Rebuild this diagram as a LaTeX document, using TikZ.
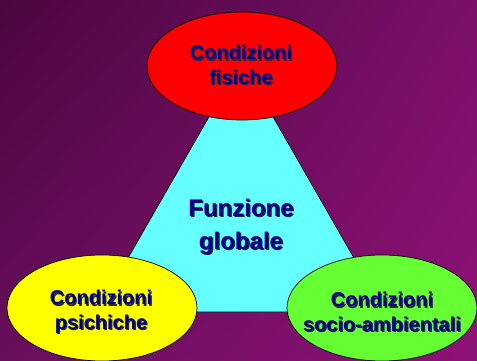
\documentclass[tikz,border=0pt]{standalone}
\usepackage{fontspec}
\setmainfont{Liberation Sans}
\usetikzlibrary{shapes.geometric,shadings}
\definecolor{bgul}{RGB}{74,6,64}
\definecolor{bgur}{RGB}{122,16,104}
\definecolor{bgll}{RGB}{104,14,92}
\definecolor{bglr}{RGB}{142,18,118}
\definecolor{redc}{RGB}{255,0,0}
\definecolor{cyanc}{RGB}{102,255,255}
\definecolor{yelc}{RGB}{255,255,0}
\definecolor{grnc}{RGB}{102,255,51}
\definecolor{txtc}{RGB}{0,0,136}
\definecolor{shc}{RGB}{40,40,60}
\newcommand\shlabel[4]{%
  \node[#3, text=shc, xshift=1.3pt, yshift=-1.3pt] at #2 {#4};
  \node[#3] (#1) at #2 {#4};}
\begin{document}
\begin{tikzpicture}[x=1pt,y=-1pt,
  blob/.style={ellipse, draw=black, line width=0.7pt, inner sep=0pt,
    minimum width=190pt, minimum height=108pt},
  lbl/.style={font=\bfseries\fontsize{20}{24.5}\selectfont, text=txtc, align=center, inner sep=0pt},
  biglbl/.style={font=\bfseries\fontsize{24}{33}\selectfont, text=txtc, align=center, inner sep=0pt}]
\useasboundingbox (0,0) rectangle (477,361);
\shade[upper left=bgul, upper right=bgur, lower left=bgll, lower right=bglr] (0,0) rectangle (477,361);
% triangle
\coordinate (tA) at (241,61);
\coordinate (tB) at (97,312);
\coordinate (tC) at (385,312);
\draw[fill=cyanc, draw=black, line width=0.7pt] (tA) -- (tB) -- (tC) -- cycle;
% ellipses
\node[blob, fill=redc] (top) at (242,66) {};
\node[blob, fill=yelc, minimum height=106pt] (left) at (102,308) {};
\node[blob, fill=grnc, minimum height=106pt] (right) at (382,308) {};
% labels
\shlabel{ttop}{(241,65)}{lbl}{Condizioni\\fisiche}
\shlabel{tcen}{(241,227)}{biglbl}{Funzione\\globale}
\shlabel{tleft}{(101,312)}{lbl}{Condizioni\\psichiche}
\shlabel{tright}{(382,312)}{lbl}{Condizioni\\socio-ambientali}
\end{tikzpicture}
\end{document}
